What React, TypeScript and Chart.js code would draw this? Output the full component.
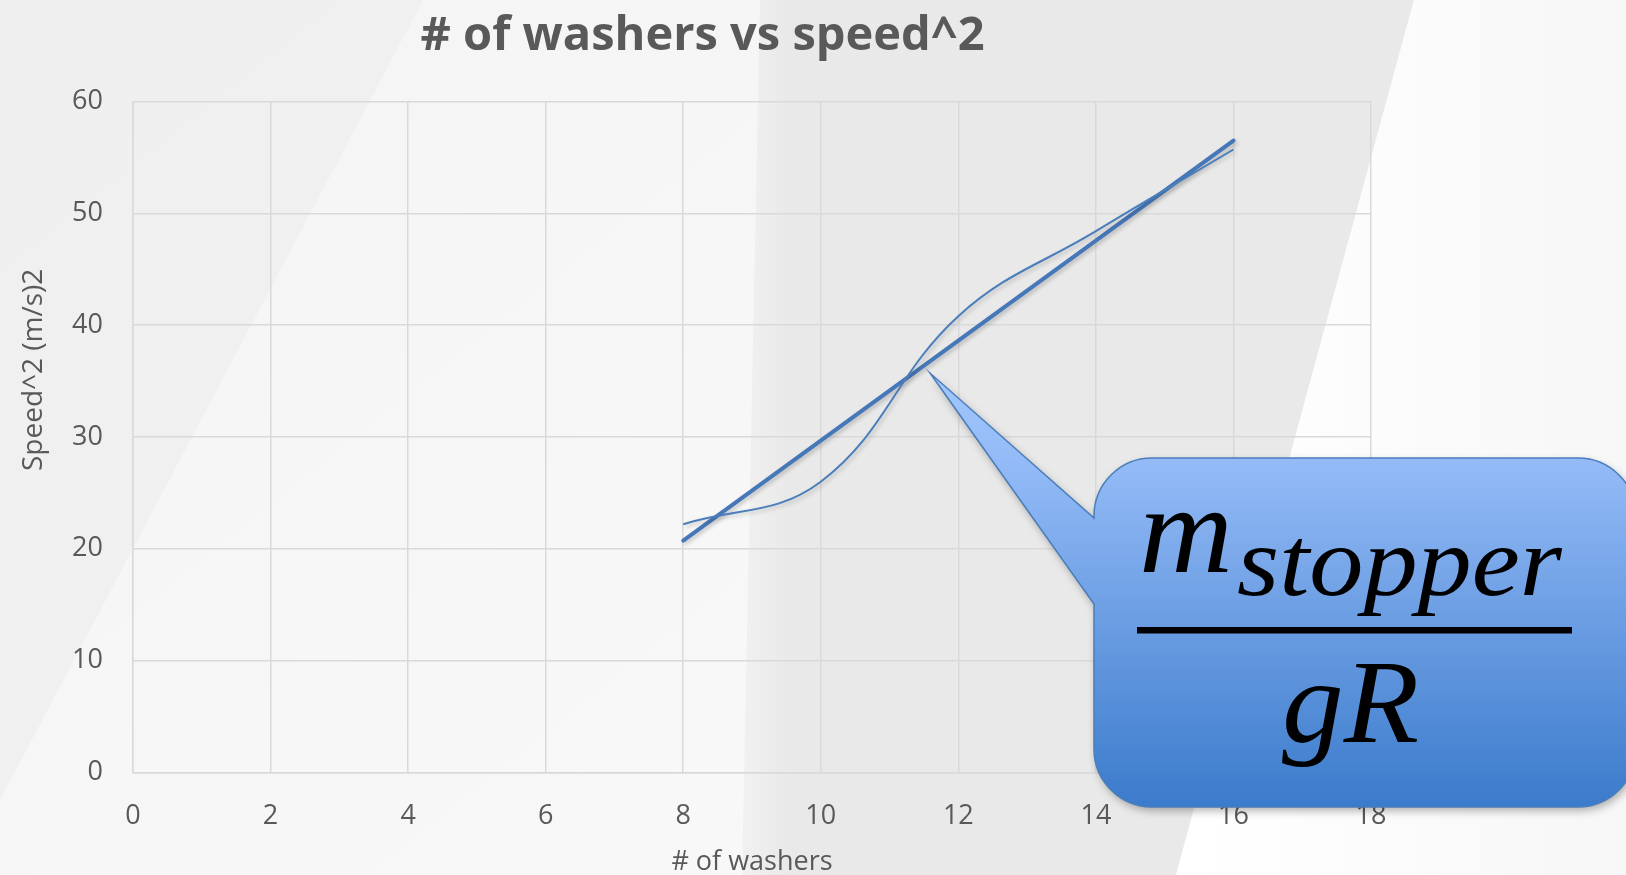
import React, { useEffect, useRef } from "react";
import { Chart, registerables } from "chart.js";

Chart.register(...registerables);

// ---- data ----
const washers = [8, 10, 12, 14, 16];
const speedSquared = [22.2, 26.0, 40.8, 48.4, 55.7];
const xTickValues = [0, 2, 4, 6, 8, 10, 12, 14, 16, 18];
const yTickValues = [0, 10, 20, 30, 40, 50, 60];
const chartTitle = "# of washers vs speed^2";
const xAxisTitle = "# of washers";
const yAxisTitle = "Speed^2 (m/s)2";
const calloutNumerator = "m";
const calloutSubscript = "stopper";
const calloutDenominator = "gR";

// linear least-squares trendline computed from the data
function trend(xs: number[], ys: number[]) {
  const n = xs.length;
  const mx = xs.reduce((a, b) => a + b, 0) / n;
  const my = ys.reduce((a, b) => a + b, 0) / n;
  let sxy = 0;
  let sxx = 0;
  for (let i = 0; i < n; i++) {
    sxy += (xs[i] - mx) * (ys[i] - my);
    sxx += (xs[i] - mx) * (xs[i] - mx);
  }
  const slope = sxy / sxx;
  const icpt = my - slope * mx;
  const x0 = Math.min(...xs);
  const x1 = Math.max(...xs);
  return [
    { x: x0, y: icpt + slope * x0 },
    { x: x1, y: icpt + slope * x1 },
  ];
}

const GRAY_TEXT = "#595959";
const FONT = "'Open Sans', 'DejaVu Sans', sans-serif";

const backgroundPlugin = {
  id: "slideBackground",
  beforeDraw(chart: any) {
    const { ctx, width, height } = chart;
    ctx.save();
    const base = ctx.createLinearGradient(0, 0, 700, height);
    base.addColorStop(0, "#f4f4f4");
    base.addColorStop(1, "#f8f8f8");
    ctx.fillStyle = base;
    ctx.fillRect(0, 0, width, height);

    // faint diagonal wedge at the top-left
    ctx.fillStyle = "rgba(228,228,228,0.28)";
    ctx.beginPath();
    ctx.moveTo(0, 0);
    ctx.lineTo(423, 0);
    ctx.lineTo(0, 800);
    ctx.closePath();
    ctx.fill();

    // middle gray band
    const band = ctx.createLinearGradient(735, 0, 790, 0);
    band.addColorStop(0, "#f2f2f2");
    band.addColorStop(1, "#e9e9e9");
    ctx.fillStyle = band;
    ctx.beginPath();
    ctx.moveTo(760, 0);
    ctx.lineTo(1414, 0);
    ctx.lineTo(1176, height);
    ctx.lineTo(742, height);
    ctx.closePath();
    ctx.fill();

    // right white area
    const right = ctx.createLinearGradient(1200, 0, width, 0);
    right.addColorStop(0, "#ffffff");
    right.addColorStop(1, "#f7f7f7");
    ctx.fillStyle = right;
    ctx.beginPath();
    ctx.moveTo(1414, 0);
    ctx.lineTo(width, 0);
    ctx.lineTo(width, height);
    ctx.lineTo(1176, height);
    ctx.closePath();
    ctx.fill();
    ctx.restore();
  },
};

const shadowPlugin = {
  id: "lineShadow",
  beforeDatasetsDraw(chart: any) {
    const ctx = chart.ctx;
    ctx.save();
    ctx.shadowColor = "rgba(0,0,0,0.22)";
    ctx.shadowBlur = 4;
    ctx.shadowOffsetX = 2;
    ctx.shadowOffsetY = 2;
  },
  afterDatasetsDraw(chart: any) {
    chart.ctx.restore();
  },
};

// y-axis title, placed where the original slide put it (a little above the plot's middle)
const yTitlePlugin = {
  id: "yAxisTitle",
  afterDraw(chart: any) {
    const ctx = chart.ctx;
    const area = chart.chartArea;
    ctx.save();
    ctx.translate(34, area.top + (area.bottom - area.top) * 0.4);
    ctx.rotate(-Math.PI / 2);
    ctx.font = `28px ${FONT}`;
    ctx.fillStyle = GRAY_TEXT;
    ctx.textAlign = "center";
    ctx.textBaseline = "middle";
    ctx.fillText(yAxisTitle, 0, 0);
    ctx.restore();
  },
};

function drawFitted(ctx: any, text: string, x: number, y: number, w: number, font: string) {
  ctx.save();
  ctx.font = font;
  const m = ctx.measureText(text).width;
  ctx.translate(x, y);
  ctx.scale(w / m, 1);
  ctx.fillText(text, 0, 0);
  ctx.restore();
}

const calloutPlugin = {
  id: "callout",
  afterDraw(chart: any) {
    const ctx = chart.ctx;
    ctx.save();
    const L = 1094, T = 458, R = 1636, B = 807, r = 58;
    const tipX = 930, tipY = 373, b1 = 518, b2 = 604;
    ctx.beginPath();
    ctx.moveTo(L + r, T);
    ctx.lineTo(R - r, T);
    ctx.arcTo(R, T, R, T + r, r);
    ctx.lineTo(R, B - r);
    ctx.arcTo(R, B, R - r, B, r);
    ctx.lineTo(L + r, B);
    ctx.arcTo(L, B, L, B - r, r);
    ctx.lineTo(L, b2);
    ctx.lineTo(tipX, tipY);
    ctx.lineTo(L, b1);
    ctx.lineTo(L, T + r);
    ctx.arcTo(L, T, L + r, T, r);
    ctx.closePath();
    const grad = ctx.createLinearGradient(0, tipY, 0, B);
    grad.addColorStop(0, "#a3c7fd");
    grad.addColorStop(0.2, "#94bbf7");
    grad.addColorStop(1, "#3b7bcb");
    ctx.shadowColor = "rgba(0,0,0,0.3)";
    ctx.shadowBlur = 8;
    ctx.shadowOffsetX = 2;
    ctx.shadowOffsetY = 4;
    ctx.fillStyle = grad;
    ctx.fill();
    ctx.shadowColor = "transparent";
    ctx.lineWidth = 1.5;
    ctx.strokeStyle = "#4a7ebb";
    ctx.stroke();

    ctx.fillStyle = "#000000";
    ctx.textBaseline = "alphabetic";
    ctx.textAlign = "left";
    const serif = "'Liberation Serif', 'DejaVu Serif', serif";
    drawFitted(ctx, calloutNumerator, 1139, 572, 94, `italic 124px ${serif}`);
    drawFitted(ctx, calloutSubscript, 1237, 595, 325, `italic 100px ${serif}`);
    ctx.fillRect(1137, 627, 435, 6.5);
    drawFitted(ctx, calloutDenominator, 1282, 742, 137, `italic 118px ${serif}`);
    ctx.restore();
  },
};

export default function App() {
  const canvasRef = useRef<HTMLCanvasElement | null>(null);

  useEffect(() => {
    const canvas = canvasRef.current;
    if (!canvas) return;
    const points = washers.map((x, i) => ({ x, y: speedSquared[i] }));
    const chart = new Chart(canvas, {
      type: "scatter",
      data: {
        datasets: [
          {
            label: "Speed^2",
            data: points,
            showLine: true,
            tension: 0.4,
            borderColor: "#4a7ebb",
            borderWidth: 2,
            pointRadius: 0,
            fill: false,
          },
          {
            label: "Linear trend",
            data: trend(washers, speedSquared),
            showLine: true,
            tension: 0,
            borderColor: "#4677b8",
            borderWidth: 4,
            borderCapStyle: "round",
            pointRadius: 0,
            fill: false,
          },
        ],
      },
      options: {
        responsive: false,
        maintainAspectRatio: false,
        animation: false,
        layout: { padding: { left: 34, right: 255, top: 0, bottom: 0 } },
        plugins: {
          legend: { display: false },
          tooltip: { enabled: false },
          title: {
            display: true,
            text: chartTitle,
            color: GRAY_TEXT,
            font: { family: FONT, size: 47, weight: "bold" },
            padding: { top: 8, bottom: 37 },
          },
        },
        scales: {
          x: {
            type: "linear",
            min: 0,
            max: 18,
            afterBuildTicks: (s: any) => {
              s.ticks = xTickValues.map((v) => ({ value: v }));
            },
            afterFit: (s: any) => {
              s.height = 102.5;
            },
            ticks: {
              color: GRAY_TEXT,
              font: { family: FONT, size: 27 },
              padding: 28,
            },
            grid: { color: "#d9d9d9", lineWidth: 1.5, drawTicks: false },
            border: { display: true, color: "#d9d9d9", width: 1.5 },
            title: {
              display: true,
              text: xAxisTitle,
              color: GRAY_TEXT,
              font: { family: FONT, size: 27 },
              padding: { top: 0, bottom: -4 },
            },
          },
          y: {
            type: "linear",
            min: 0,
            max: 60,
            afterBuildTicks: (s: any) => {
              s.ticks = yTickValues.map((v) => ({ value: v }));
            },
            afterFit: (s: any) => {
              s.width = 99;
            },
            ticks: {
              color: GRAY_TEXT,
              font: { family: FONT, size: 27 },
              padding: 30,
            },
            grid: { color: "#d9d9d9", lineWidth: 1.5, drawTicks: false },
            border: { display: true, color: "#d9d9d9", width: 1.5 },
            title: { display: false },
          },
        },
      },
      plugins: [backgroundPlugin, shadowPlugin, yTitlePlugin, calloutPlugin],
    } as any);
    return () => chart.destroy();
  }, []);

  return (
    <div style={{ position: "fixed", left: 0, top: 0, width: 1626, height: 875, overflow: "hidden" }}>
      <canvas ref={canvasRef} width={1626} height={875} style={{ display: "block" }} />
    </div>
  );
}
